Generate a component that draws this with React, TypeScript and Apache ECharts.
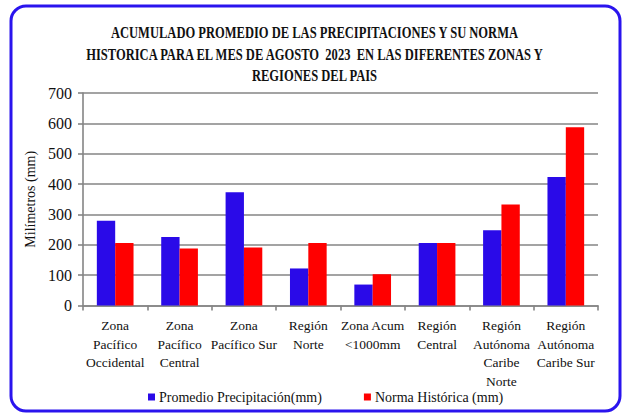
import React, { useEffect, useRef } from "react";
import * as echarts from "echarts";

const categories = [
  "Zona\nPacífico\nOccidental",
  "Zona\nPacífico\nCentral",
  "Zona\nPacífico Sur",
  "Región\nNorte",
  "Zona Acum\n<1000mm",
  "Región\nCentral",
  "Región\nAutónoma\nCaribe\nNorte",
  "Región\nAutónoma\nCaribe Sur",
];
const promedio = [279, 226, 373, 122, 69, 206, 248, 423];
const norma = [206, 188, 191, 206, 103, 206, 333, 587];
const seriesNames = ["Promedio Precipitación(mm)", "Norma Histórica (mm)"];
const titleLines = [
  "ACUMULADO PROMEDIO DE LAS PRECIPITACIONES Y SU NORMA",
  "HISTORICA PARA EL MES DE AGOSTO  2023  EN LAS DIFERENTES ZONAS Y",
  "REGIONES DEL PAIS",
];
const yAxisName = "Milímetros (mm)";

const FONT = "'Liberation Serif', 'DejaVu Serif', serif";

export default function App() {
  const ref = useRef<HTMLDivElement>(null);
  useEffect(() => {
    document.body.style.margin = "0";
    const chart = echarts.init(ref.current!, null, { renderer: "svg" });
    const titleY = [32, 54, 75];
    chart.setOption({
      animation: false,
      backgroundColor: "#ffffff",
      textStyle: { fontFamily: FONT },
      grid: { left: 83, right: 25, top: 93, bottom: 110.5 },
      legend: {
        left: 143,
        top: 385,
        itemWidth: 7,
        itemHeight: 7,
        itemGap: 42,
        icon: "rect",
        textStyle: { fontFamily: FONT, fontSize: 14, color: "#111", padding: [0, 0, 0, -1] },
        data: seriesNames,
      },
      xAxis: {
        type: "category",
        data: categories,
        axisLine: { lineStyle: { color: "#858585", width: 1.6 } },
        axisTick: { show: true, length: 5, lineStyle: { color: "#858585", width: 1.6 } },
        axisLabel: {
          interval: 0,
          margin: 11,
          fontFamily: FONT,
          fontSize: 13.5,
          lineHeight: 18.5,
          color: "#111",
        },
      },
      yAxis: {
        type: "value",
        min: 0,
        max: 700,
        interval: 100,
        name: yAxisName,
        nameLocation: "middle",
        nameGap: 41,
        nameTextStyle: { fontFamily: FONT, fontSize: 14, color: "#111" },
        axisLine: { show: true, lineStyle: { color: "#858585", width: 1.6 } },
        axisTick: { show: true, length: 5, lineStyle: { color: "#858585", width: 1.6 } },
        axisLabel: { margin: 11, fontFamily: FONT, fontSize: 16, color: "#111" },
        splitLine: { lineStyle: { color: "#858585", width: 1.6 } },
      },
      series: [
        {
          name: seriesNames[0],
          type: "bar",
          data: promedio,
          barGap: "0%",
          barCategoryGap: "43%",
          itemStyle: { color: "#2A0AE8" },
        },
        {
          name: seriesNames[1],
          type: "bar",
          data: norma,
          barGap: "0%",
          barCategoryGap: "43%",
          itemStyle: { color: "#FF0000" },
        },
      ],
      graphic: [
        {
          type: "rect",
          shape: { x: 11, y: 6, width: 609, height: 405, r: 15 },
          style: { fill: "none", stroke: "#2A14EE", lineWidth: 3 },
          silent: true,
        },
        ...titleLines.map((t, i) => ({
          type: "text",
          x: 314.5,
          y: titleY[i],
          scaleX: 0.76,
          style: {
            text: t,
            fontFamily: FONT,
            fontWeight: "bold",
            fontSize: 16.5,
            fill: "#111",
            textAlign: "center",
            textVerticalAlign: "middle",
          },
        })),
      ],
    });
    return () => chart.dispose();
  }, []);
  return (
    <div
      ref={ref}
      style={{ position: "absolute", left: 0, top: 0, width: 623, height: 416 }}
    />
  );
}
